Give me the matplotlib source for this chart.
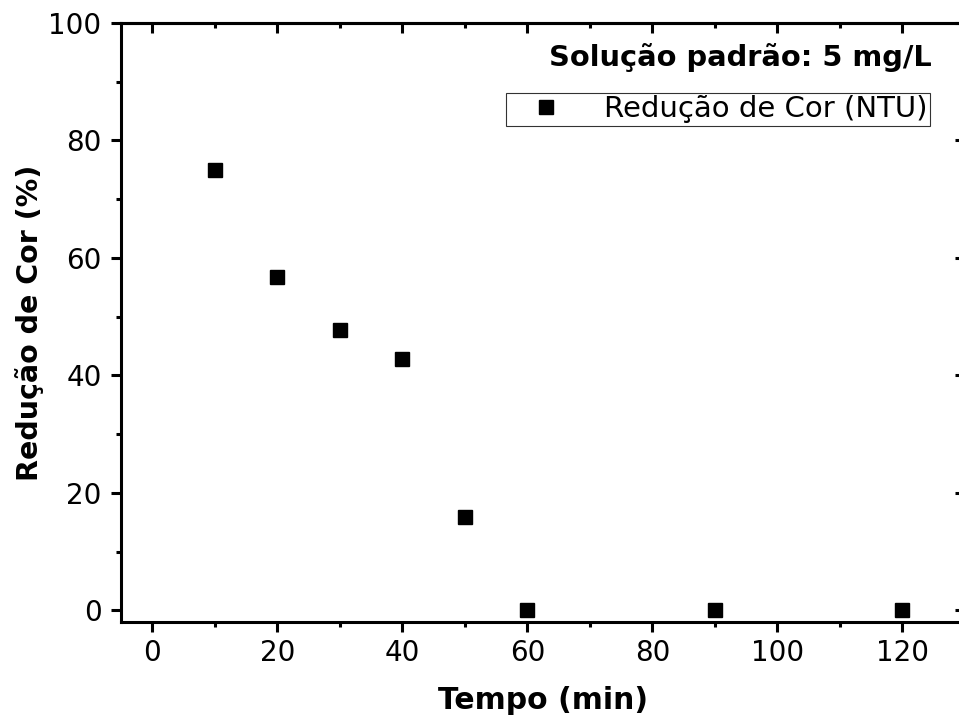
import matplotlib
matplotlib.use("Agg")
import matplotlib.pyplot as plt
from matplotlib.ticker import MultipleLocator

plt.rcParams['font.family'] = ['DejaVu Sans']

# data
tempo = [10, 20, 30, 40, 50, 60, 90, 120]
reducao = [75.0, 56.8, 47.7, 42.8, 15.9, 0.0, 0.0, 0.0]

W, H = 959, 722
fig = plt.figure(figsize=(W / 100, H / 100), dpi=100)
ax = fig.add_axes([121 / W, (H - 622) / H, (965 - 121) / W, (622 - 23) / H])

ax.plot(tempo, reducao, linestyle='none', marker='s', color='black',
        markersize=9.5, label='Redução de Cor (NTU)')

ax.set_xlim(-5, 130)
ax.set_ylim(-2, 100)
ax.xaxis.set_major_locator(MultipleLocator(20))
ax.xaxis.set_minor_locator(MultipleLocator(10))
ax.yaxis.set_major_locator(MultipleLocator(20))
ax.yaxis.set_minor_locator(MultipleLocator(10))

for s in ax.spines.values():
    s.set_linewidth(2.2)

ax.tick_params(which='both', direction='out', width=2.2, labelsize=20,
               top=False, right=False)
ax.tick_params(which='major', length=7)
ax.tick_params(which='minor', length=3.5)
ax.tick_params(axis='x', which='major', pad=5)
ax.tick_params(axis='y', which='major', pad=7)

# inward ticks on top and right (no labels)
axt = ax.secondary_xaxis('top')
axt.xaxis.set_major_locator(MultipleLocator(20))
axt.xaxis.set_minor_locator(MultipleLocator(10))
axt.tick_params(which='both', direction='in', width=2.2, labeltop=False)
axt.tick_params(which='major', length=7)
axt.tick_params(which='minor', length=3.5)
axt.spines['top'].set_linewidth(2.2)
axr = ax.secondary_yaxis('right')
axr.yaxis.set_major_locator(MultipleLocator(20))
axr.yaxis.set_minor_locator(MultipleLocator(10))
axr.tick_params(which='both', direction='in', width=2.2, labelright=False)
axr.tick_params(which='major', length=7)
axr.tick_params(which='minor', length=3.5)

ax.set_xlabel('Tempo (min)', fontsize=21.5, fontweight='bold', labelpad=14)
ax.set_ylabel('Redução de Cor (%)', fontsize=20.5, fontweight='bold', labelpad=3)

fig.text(932 / W, 1 - 66 / H, 'Solução padrão: 5 mg/L', fontsize=20.8,
         fontweight='bold', ha='right', va='baseline')

leg = ax.legend(loc='upper right', bbox_to_anchor=(930 / W, 1 - 93 / H),
                bbox_transform=fig.transFigure, fontsize=21, frameon=True,
                fancybox=False, edgecolor='black', borderpad=0.08,
                handletextpad=0.7, handlelength=2.6, borderaxespad=0)
leg.get_frame().set_linewidth(0.8)

fig.savefig('out.png', dpi=100)
